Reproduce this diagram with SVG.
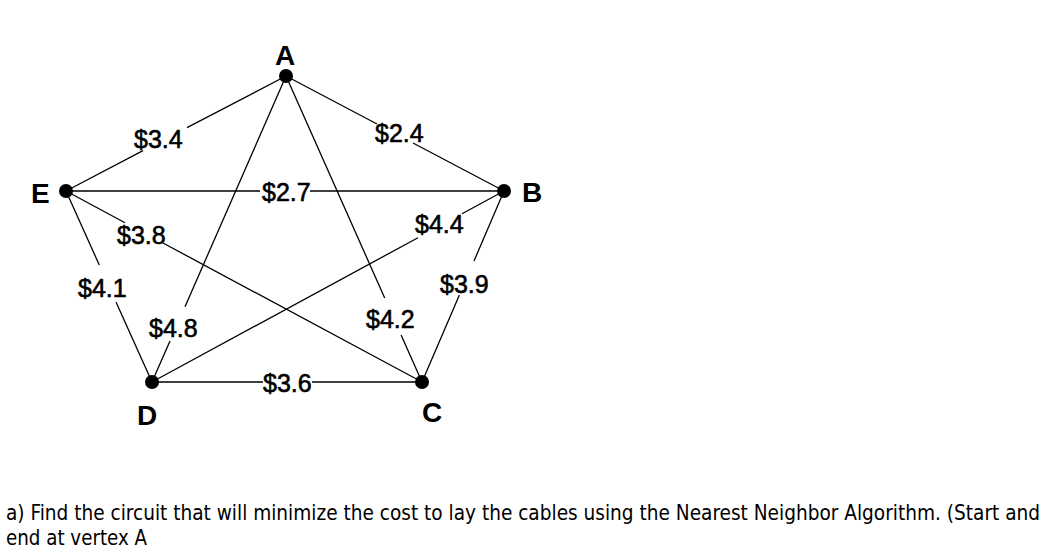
<svg xmlns="http://www.w3.org/2000/svg" width="1055" height="558" viewBox="0 0 1055 558">
<style>
.e{stroke:#000;stroke-width:1.3;fill:none}
.w{font-family:"Liberation Sans",Arial,sans-serif;font-size:25px;fill:#000;stroke:#000;stroke-width:0.6}
.v{font-family:"Liberation Sans",Arial,sans-serif;font-size:28px;font-weight:bold;fill:#000}
.q{font-family:"DejaVu Sans","Liberation Sans",sans-serif;font-size:21px;font-stretch:condensed;fill:#000}
</style>
<rect width="1055" height="558" fill="#fff"/>
<g id="connectors">
<path class="e" d="M286 76L187 127.7M143 150.7L66 191"/>
<path class="e" d="M286 76L377 124M413 143L504 191"/>
<path class="e" d="M66 191L260 191M310 191L504 191"/>
<path class="e" d="M66 191L125 222.7M163 243L422 382"/>
<path class="e" d="M66 191L99.3 265M116 302L152 382"/>
<path class="e" d="M286 76L185 306.7M170 341L152 382"/>
<path class="e" d="M152 382L418 237.7M462 213.8L504 191"/>
<path class="e" d="M504 191L474 261M459.4 295L422 382"/>
<path class="e" d="M286 76L384.7 298M401.1 335L422 382"/>
<path class="e" d="M152 382L263 382M312 382L422 382"/>
</g>
<g id="edge-labels">
<text class="w" x="134" y="148">$3.4</text>
<text class="w" x="375" y="142">$2.4</text>
<text class="w" x="262" y="201">$2.7</text>
<text class="w" x="117" y="244">$3.8</text>
<text class="w" x="415" y="233">$4.4</text>
<text class="w" x="78" y="297">$4.1</text>
<text class="w" x="440" y="293">$3.9</text>
<text class="w" x="149" y="337">$4.8</text>
<text class="w" x="366" y="328">$4.2</text>
<text class="w" x="263" y="392">$3.6</text>
</g>
<g id="node-A"><circle cx="286" cy="76" r="7"/><text class="v" x="285" y="65" text-anchor="middle">A</text></g>
<g id="node-B"><circle cx="504" cy="191" r="7"/><text class="v" x="522" y="202">B</text></g>
<g id="node-C"><circle cx="422" cy="382" r="7"/><text class="v" x="422" y="422">C</text></g>
<g id="node-D"><circle cx="152" cy="382" r="7"/><text class="v" x="137" y="425">D</text></g>
<g id="node-E"><circle cx="66" cy="191" r="7"/><text class="v" x="31" y="203">E</text></g>
<g id="question">
<text class="q" x="6" y="520" textLength="1034" lengthAdjust="spacingAndGlyphs">a) Find the circuit that will minimize the cost to lay the cables using the Nearest Neighbor Algorithm. (Start and</text>
<text class="q" x="6" y="545" textLength="141" lengthAdjust="spacingAndGlyphs">end at vertex A</text>
</g>
</svg>
